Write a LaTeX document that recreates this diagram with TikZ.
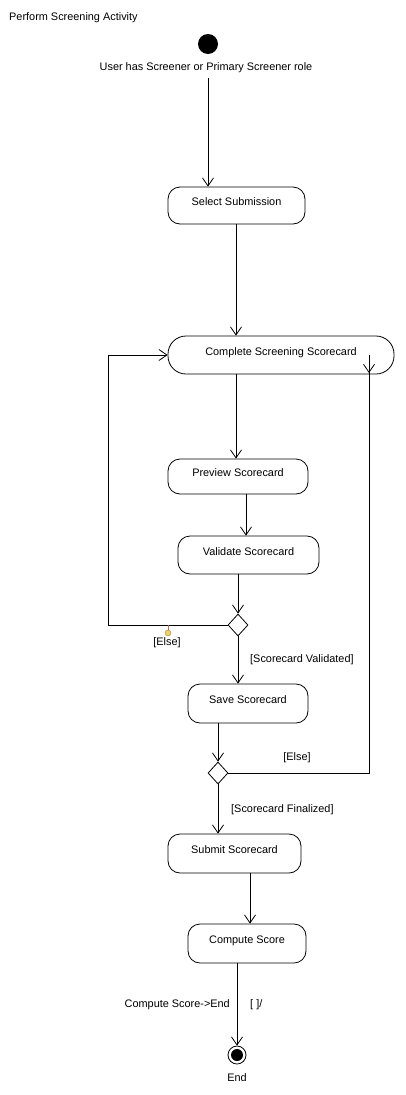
\documentclass[tikz,border=0pt]{standalone}
\usepackage{fontspec}
\setmainfont{Liberation Sans}
\usetikzlibrary{shapes.geometric,arrows.meta}
\begin{document}
\begin{tikzpicture}[x=1pt,y=-1pt,
  every node/.style={font=\fontsize{10.9}{13}\selectfont},
  act/.style={draw,line width=0.8pt,rounded corners=12pt,inner sep=0pt,text height=8pt,text depth=8pt},
  pill/.style={draw,line width=0.8pt,rounded corners=18pt,inner sep=0pt,text height=8pt,text depth=8pt},
  dec/.style={draw,diamond,line width=0.8pt,minimum width=20pt,minimum height=22pt,inner sep=0pt},
  arr/.style={line width=0.8pt,-{Straight Barb[length=8pt,width=11pt,line width=0.8pt]}},
  ln/.style={line width=0.8pt},
  lbl/.style={inner sep=0pt}]
\useasboundingbox (0,0) rectangle (406,1095);
\node[lbl,anchor=west] (title) at (9,18) {Perform Screening Activity};
\node[circle,fill=black,minimum size=20pt,inner sep=0pt] (start) at (208,44) {};
\node[lbl] (startlbl) at (206,68) {User has Screener or Primary Screener role};
\node[act,minimum width=137pt,minimum height=37pt] (sel) at (236.5,205.5) {Select Submission};
\node[pill,minimum width=226pt,minimum height=38pt] (comp) at (281,355) {Complete Screening Scorecard};
\node[act,minimum width=140pt,minimum height=35pt] (prev) at (238,476.5) {Preview Scorecard};
\node[act,minimum width=141pt,minimum height=38pt] (val) at (248.5,555) {Validate Scorecard};
\node[dec] (d1) at (238,625) {};
\node[act,minimum width=120pt,minimum height=39pt] (save) at (248,703.5) {Save Scorecard};
\node[dec] (d2) at (218,773) {};
\node[act,minimum width=133pt,minimum height=39pt] (sub) at (234.5,853.5) {Submit Scorecard};
\node[act,minimum width=118pt,minimum height=39pt] (cmp) at (247,943.5) {Compute Score};
\node[circle,draw,line width=0.8pt,minimum size=18pt,inner sep=0pt] (end) at (237,1055) {};
\node[circle,fill=black,minimum size=12pt,inner sep=0pt] (endin) at (237,1055) {};
\node[lbl] (endlbl) at (237,1078) {End};
\coordinate (c236) at (236,0);
\coordinate (c246) at (246,0);
\coordinate (c250) at (250,0);
\coordinate (cL) at (108,625);
\coordinate (cR) at (369,355);
\coordinate (cRt) at (369,373);
\coordinate (cRs) at (369,362);
\draw[arr] (start |- 0,78) -- (sel.north -| start);
\draw[arr] (sel.south -| c236) -- (comp.north -| c236);
\draw[arr] (comp.south -| c236) -- (prev.north -| c236);
\draw[arr] (prev.south -| c246) -- (val.north -| c246);
\draw[arr] (val.south -| d1) -- (d1.north);
\draw[arr] (d1.west) -- (cL) |- (comp.west);
\draw[arr] (d1.south) -- (save.north -| d1);
\draw[arr] (save.south -| d2) -- (d2.north);
\draw[ln] (d2.east) -| (cR);
\draw[arr] (cRs) -- (cRt);
\draw[arr] (d2.south) -- (sub.north -| d2);
\draw[arr] (sub.south -| c250) -- (cmp.north -| c250);
\draw[arr] (cmp.south -| end) -- (end.north);
\coordinate (dotTop) at (168,625);
\node[circle,draw={rgb,255:red,170;green,130;blue,60},fill={rgb,255:red,235;green,210;blue,110},minimum size=6pt,inner sep=0pt] (dot) at (168,633) {};
\draw[line width=0.6pt,draw={rgb,255:red,170;green,110;blue,90}] (dotTop) -- (dot.north);
\node[lbl] (else1) at (167,643) {[Else]};
\node[lbl,anchor=west] (valid) at (250,660) {[Scorecard Validated]};
\node[lbl] (else2) at (297,758) {[Else]};
\node[lbl,anchor=west] (final) at (231,810) {[Scorecard Finalized]};
\node[lbl,anchor=east] (cse) at (230,1005) {Compute Score->End};
\node[lbl,anchor=west] (guard) at (250,1005) {[ ]/};
\end{tikzpicture}
\end{document}
